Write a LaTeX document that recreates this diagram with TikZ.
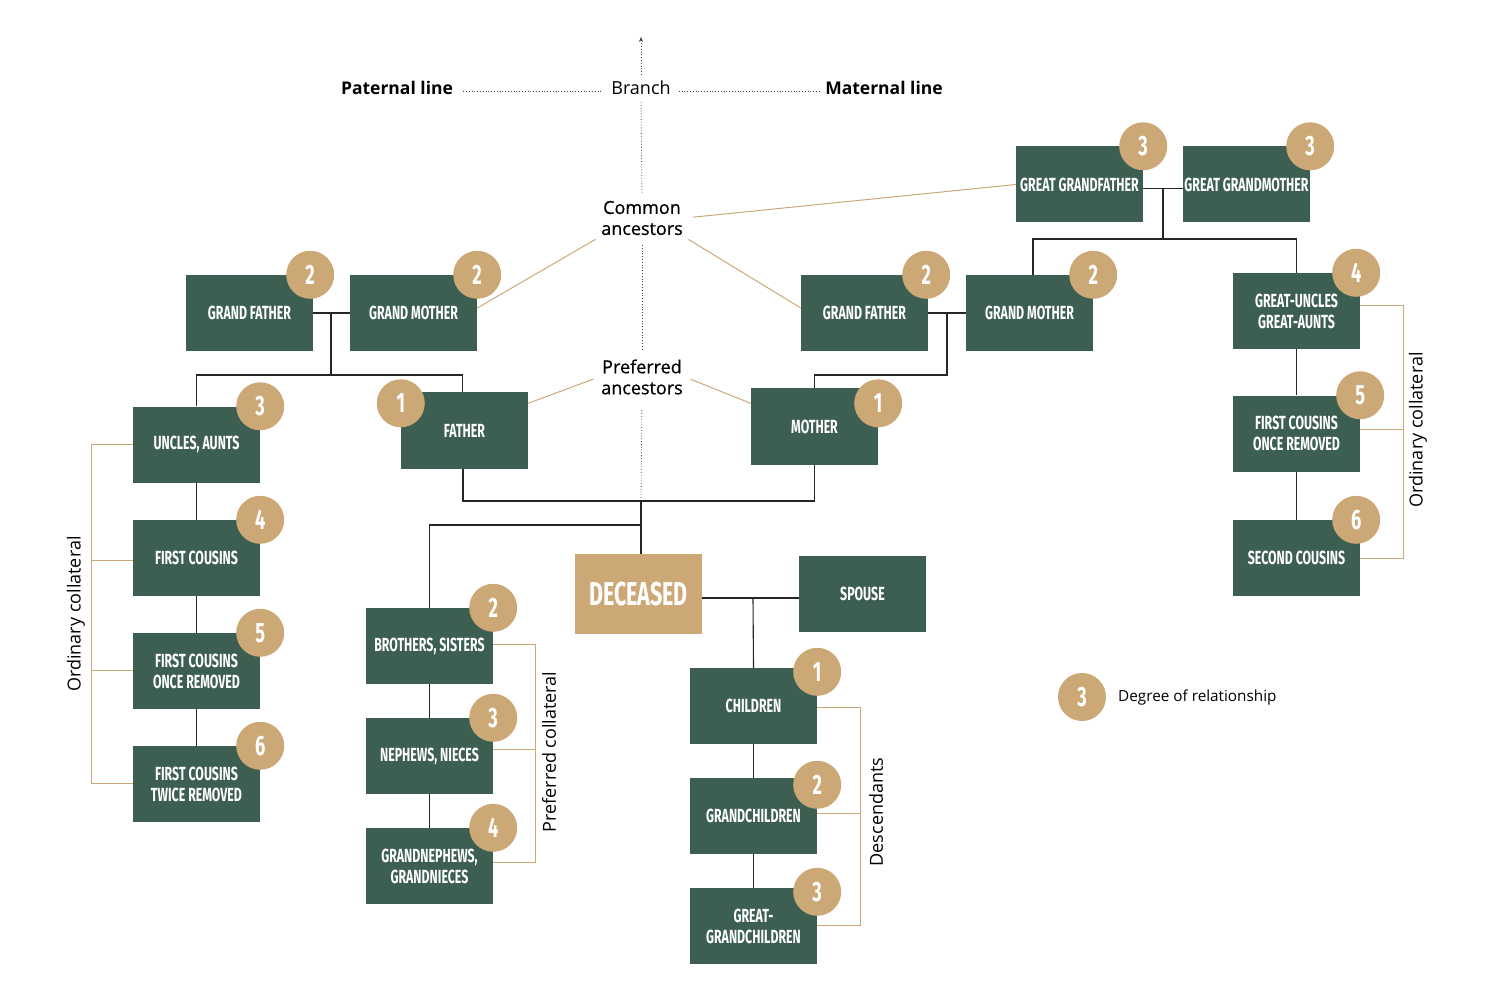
\documentclass[tikz,border=0pt]{standalone}
\usepackage{fontspec}
\setmainfont{Open Sans}
\newfontfamily\mediumfont[FakeBold=0.7]{Open Sans}
\newfontfamily\boxfont[FakeStretch=0.65]{Fira Sans}
\usetikzlibrary{arrows.meta}

\definecolor{boxgreen}{HTML}{3C5F51}
\definecolor{tanbrown}{HTML}{CCA876}

\tikzset{
  person/.style={fill=boxgreen, minimum width=127pt, minimum height=76pt, inner sep=0pt,
    text=white, align=center, font=\boxfont\bfseries\fontsize{19}{21}\selectfont},
  deceasedbox/.style={fill=tanbrown, minimum width=127pt, minimum height=80pt, inner sep=0pt,
    text=white, font=\boxfont\bfseries\fontsize{33}{33}\selectfont},
  degree/.style={circle, fill=tanbrown, minimum size=48pt, inner sep=0pt,
    text=white, font=\boxfont\bfseries\fontsize{28}{28}\selectfont},
  treeline/.style={line width=1.1pt, black!85},
  tanline/.style={line width=1pt, tanbrown},
  axisline/.style={dotted, line width=0.8pt, black!75},
  textlabel/.style={font=\fontsize{18}{21}\selectfont, align=center, inner sep=2pt},
  ancestorlabel/.style={font=\mediumfont\fontsize{18}{21}\selectfont, align=center, inner sep=2pt},
}

\begin{document}
\begin{tikzpicture}[x=1pt, y=-1pt]
  \useasboundingbox (0,0) rectangle (1500,1000);

  % header
  \node[textlabel, font=\bfseries\fontsize{17.5}{21}\selectfont] (paternal) at (397,88) {Paternal line};
  \node[textlabel] (branch) at (641,88) {Branch};
  \node[textlabel, font=\bfseries\fontsize{17.5}{21}\selectfont] (maternal) at (884,88) {Maternal line};
  \node[ancestorlabel] (common) at (642,218) {Common\\ancestors};
  \node[ancestorlabel] (preferred) at (642,377) {Preferred\\ancestors};
  \coordinate (top) at (641,37);

  % great grandparents
  \node[person] (ggf) at (1079.5,184.5) {GREAT GRANDFATHER};
  \node[person] (ggm) at (1246.5,184.5) {GREAT GRANDMOTHER};

  % grandparents
  \node[person] (gfpat) at (249.5,313) {GRAND FATHER};
  \node[person] (gmpat) at (413.5,313) {GRAND MOTHER};
  \node[person] (gfmat) at (864.5,313) {GRAND FATHER};
  \node[person] (gmmat) at (1029.5,313) {GRAND MOTHER};
  \node[person] (greatuncles) at (1296.5,311) {GREAT-UNCLES\\GREAT-AUNTS};

  % parents
  \node[person] (father) at (464.5,430.5) {FATHER};
  \node[person] (mother) at (814.5,426.5) {MOTHER};

  % ordinary collateral, left
  \node[person] (uncles) at (196.5,444.5) {UNCLES, AUNTS};
  \node[person] (cousins) at (196.5,558) {FIRST COUSINS};
  \node[person] (cousinsonce) at (196.5,671) {FIRST COUSINS\\ONCE REMOVED};
  \node[person] (cousinstwice) at (196.5,784) {FIRST COUSINS\\TWICE REMOVED};

  % ordinary collateral, right
  \node[person] (cousinsright) at (1296.5,433.5) {FIRST COUSINS\\ONCE REMOVED};
  \node[person] (secondcousins) at (1296.5,558) {SECOND COUSINS};

  % deceased and spouse
  \node[deceasedbox] (deceased) at (638.5,594) {DECEASED};
  \node[person] (spouse) at (862.5,594) {SPOUSE};

  % preferred collateral
  \node[person] (siblings) at (429.5,646) {BROTHERS, SISTERS};
  \node[person] (nephews) at (429.5,756) {NEPHEWS, NIECES};
  \node[person] (grandnephews) at (429.5,866) {GRANDNEPHEWS,\\GRANDNIECES};

  % descendants
  \node[person] (children) at (753.5,706) {CHILDREN};
  \node[person] (grandchildren) at (753.5,816) {GRANDCHILDREN};
  \node[person] (greatgrandchildren) at (753.5,926) {GREAT-\\GRANDCHILDREN};

  % axis
  \draw[axisline, shorten <=4pt, -{Stealth[length=5pt, width=4pt]}] (branch.north) -- (top);
  \draw[axisline, shorten <=6pt, shorten >=4pt] (common.north) -- (branch.south);
  \draw[axisline, shorten <=8pt, shorten >=8pt] (preferred.north) -- (common.south);
  \coordinate (parbar) at (641,501);
  \draw[axisline, shorten <=3pt, shorten >=12pt] (parbar) -- (preferred.south);
  \draw[axisline, shorten <=8pt, shorten >=6pt] ([yshift=-3pt]paternal.east) -- ([yshift=-3pt]branch.west);
  \draw[axisline, shorten <=6pt, shorten >=4pt] ([yshift=-3pt]branch.east) -- ([yshift=-3pt]maternal.west);

  % tree connectors
  \draw[treeline] ([yshift=-4pt]ggf.east) -- ([yshift=-4pt]ggm.west);
  \coordinate (ggj) at (1163,189);
  \coordinate (ggbar) at (1163,239);
  \draw[treeline] (ggj) -- (ggbar);
  \draw[treeline] ([xshift=3.5pt]gmmat.north) |- (ggbar) -| (greatuncles.north);
  \draw[treeline] (greatuncles.south) -- (cousinsright.north);
  \draw[treeline] (cousinsright.south) -- (secondcousins.north);

  \draw[treeline] (gfpat.east) -- (gmpat.west);
  \coordinate (pj) at (331,313);
  \coordinate (pbar) at (331,375);
  \draw[treeline] (pj) -- (pbar);
  \draw[treeline] (uncles.north) |- (pbar) -| ([xshift=-2pt]father.north);
  \draw[treeline] (uncles.south) -- (cousins.north);
  \draw[treeline] (cousins.south) -- (cousinsonce.north);
  \draw[treeline] (cousinsonce.south) -- (cousinstwice.north);

  \draw[treeline] (gfmat.east) -- (gmmat.west);
  \coordinate (mj) at (947,313);
  \coordinate (mbar) at (947,375);
  \draw[treeline] (mj) -- (mbar) -| (mother.north);

  \draw[treeline] ([xshift=-1.5pt]father.south) |- (parbar) -| (mother.south);
  \draw[treeline] (parbar) -- (parbar |- deceased.north);
  \coordinate (sibj) at (641,525);
  \draw[treeline] (sibj) -| (siblings.north);
  \draw[treeline] (siblings.south) -- (nephews.north);
  \draw[treeline] (nephews.south) -- (grandnephews.north);

  \draw[treeline] ([yshift=-4pt]deceased.east) -- ([yshift=-4pt]spouse.west);
  \coordinate (dj) at (753,598);
  \draw[treeline] (dj) -- (children.north);
  \draw[treeline] (children.south) -- (grandchildren.north);
  \draw[treeline] (grandchildren.south) -- (greatgrandchildren.north);

  % ancestor lines
  \draw[tanline, shorten <=8pt] (common.east) -- (ggf.west);
  \draw[tanline, shorten <=4pt] (common.south west) -- ([yshift=5pt]gmpat.east);
  \draw[tanline, shorten <=4pt] (common.south east) -- ([yshift=5pt]gfmat.west);
  \draw[tanline, shorten <=6pt] (preferred.west) -- ([yshift=-11pt]father.north east);
  \draw[tanline, shorten <=6pt] (preferred.east) -- ([yshift=-15pt]mother.north west);

  % brackets
  \coordinate (lb) at (91,0);
  \draw[tanline] (uncles.west) -- (uncles.west -| lb) -- ([yshift=1pt]cousinstwice.west -| lb) -- ([yshift=1pt]cousinstwice.west);
  \draw[tanline] ([yshift=-2pt]cousins.west) -- ([yshift=-2pt]cousins.west -| lb);
  \draw[tanline] ([yshift=1pt]cousinsonce.west) -- ([yshift=1pt]cousinsonce.west -| lb);
  \node[textlabel, rotate=90] (ordleft) at (76,614) {Ordinary collateral};

  \coordinate (pb) at (535,0);
  \draw[tanline] ([yshift=2pt]siblings.east) -- ([yshift=2pt]siblings.east -| pb) -- ([yshift=4pt]grandnephews.east -| pb) -- ([yshift=4pt]grandnephews.east);
  \draw[tanline] ([yshift=7pt]nephews.east) -- ([yshift=7pt]nephews.east -| pb);
  \node[textlabel, rotate=90] (prefcoll) at (549,752) {Preferred collateral};

  \coordinate (db) at (860,0);
  \draw[tanline] ([yshift=-1pt]children.east) -- ([yshift=-1pt]children.east -| db) -- ([yshift=1pt]greatgrandchildren.east -| db) -- ([yshift=1pt]greatgrandchildren.east);
  \draw[tanline] ([yshift=3pt]grandchildren.east) -- ([yshift=3pt]grandchildren.east -| db);
  \node[textlabel, rotate=90] (desc) at (876,812) {Descendants};

  \coordinate (rb) at (1403,0);
  \draw[tanline] ([yshift=5pt]greatuncles.east) -- ([yshift=5pt]greatuncles.east -| rb) -- (secondcousins.east -| rb) -- (secondcousins.east);
  \draw[tanline] ([yshift=4.5pt]cousinsright.east) -- ([yshift=4.5pt]cousinsright.east -| rb);
  \node[textlabel, rotate=90] (ordright) at (1418,430) {Ordinary collateral};

  % degrees of relationship
  \node[degree] (dggf) at (ggf.north east) {3};
  \node[degree] (dggm) at (ggm.north east) {3};
  \node[degree] (dgfpat) at ([xshift=-3pt]gfpat.north east) {2};
  \node[degree] (dgmpat) at (gmpat.north east) {2};
  \node[degree] (dgfmat) at ([xshift=-2pt]gfmat.north east) {2};
  \node[degree] (dgmmat) at (gmmat.north east) {2};
  \node[degree] (dgreatuncles) at ([xshift=-4pt]greatuncles.north east) {4};
  \node[degree] (dcousinsright) at (cousinsright.north east) {5};
  \node[degree] (dsecondcousins) at ([xshift=-4pt]secondcousins.north east) {6};
  \node[degree] (dfather) at ([yshift=-11pt]father.north west) {1};
  \node[degree] (dmother) at ([yshift=-15pt]mother.north east) {1};
  \node[degree] (duncles) at (uncles.north east) {3};
  \node[degree] (dcousins) at (cousins.north east) {4};
  \node[degree] (dcousinsonce) at (cousinsonce.north east) {5};
  \node[degree] (dcousinstwice) at (cousinstwice.north east) {6};
  \node[degree] (dsiblings) at (siblings.north east) {2};
  \node[degree] (dnephews) at (nephews.north east) {3};
  \node[degree] (dgrandnephews) at (grandnephews.north east) {4};
  \node[degree] (dchildren) at ([yshift=-4pt]children.north east) {1};
  \node[degree] (dgrandchildren) at ([yshift=-7pt]grandchildren.north east) {2};
  \node[degree] (dgreatgrandchildren) at ([yshift=-4pt]greatgrandchildren.north east) {3};

  % legend
  \node[degree] (legendbadge) at (1082,697) {3};
  \node[textlabel, anchor=west, font=\fontsize{15.3}{20}\selectfont] (legendtext) at (1116,697) {Degree of relationship};
\end{tikzpicture}
\end{document}
